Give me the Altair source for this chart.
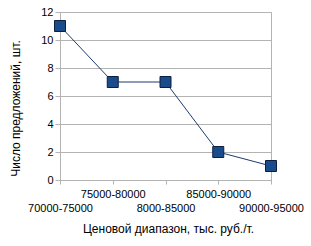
import altair as alt
import pandas as pd

categories = ["70000-75000", "75000-80000", "8000-85000", "85000-90000", "90000-95000"]
values = [11, 7, 7, 2, 1]
lower_row = ["70000-75000", "8000-85000", "90000-95000"]

df = pd.DataFrame({"cat": categories, "val": values})

FONT = "Liberation Sans"
GRID = "#b3b3b3"

x = alt.X(
    "cat:N",
    sort=categories,
    scale=alt.Scale(type="point", padding=0),
    axis=alt.Axis(
        title="Ценовой диапазон, тыс. руб./т.",
        labelAngle=0,
        labelExpr="indexof(" + str(lower_row) + ", datum.value) >= 0 ? ['', datum.value] : datum.value",
        labelLineHeight=14,
        labelPadding=4,
        tickSize=4,
        titlePadding=10,
        titleX=108,
    ),
)
y = alt.Y(
    "val:Q",
    scale=alt.Scale(domain=[0, 12]),
    axis=alt.Axis(title="Число предложений, шт.", values=[0, 2, 4, 6, 8, 10, 12], tickSize=5,
                  titlePadding=18, titleY=96),
)

line = alt.Chart(df).mark_line(color="#1d3d6e", strokeWidth=1).encode(x=x, y=y)
pts = alt.Chart(df).mark_point(
    shape="square", filled=True, size=121, fill="#1a4c8c", stroke="#0c1f3f", strokeWidth=1, opacity=1
).encode(x=x, y=y)

chart = (
    alt.layer(line, pts)
    .properties(width=211, height=168, autosize=alt.AutoSizeParams(type="none"),
                padding={"left": 60, "top": 12, "right": 40, "bottom": 66})
    .configure_view(stroke=GRID, strokeWidth=1)
    .configure_axis(
        labelFont=FONT, titleFont=FONT, labelFontSize=11, titleFontSize=12,
        labelColor="#000", titleColor="#000", titleFontWeight="normal",
        gridColor=GRID, domainColor=GRID, tickColor=GRID,
    )
    .configure_axisX(grid=False)
    .configure_axisY(grid=True)
)

chart.save("out.html", embed_options={"renderer": "svg", "actions": False})
